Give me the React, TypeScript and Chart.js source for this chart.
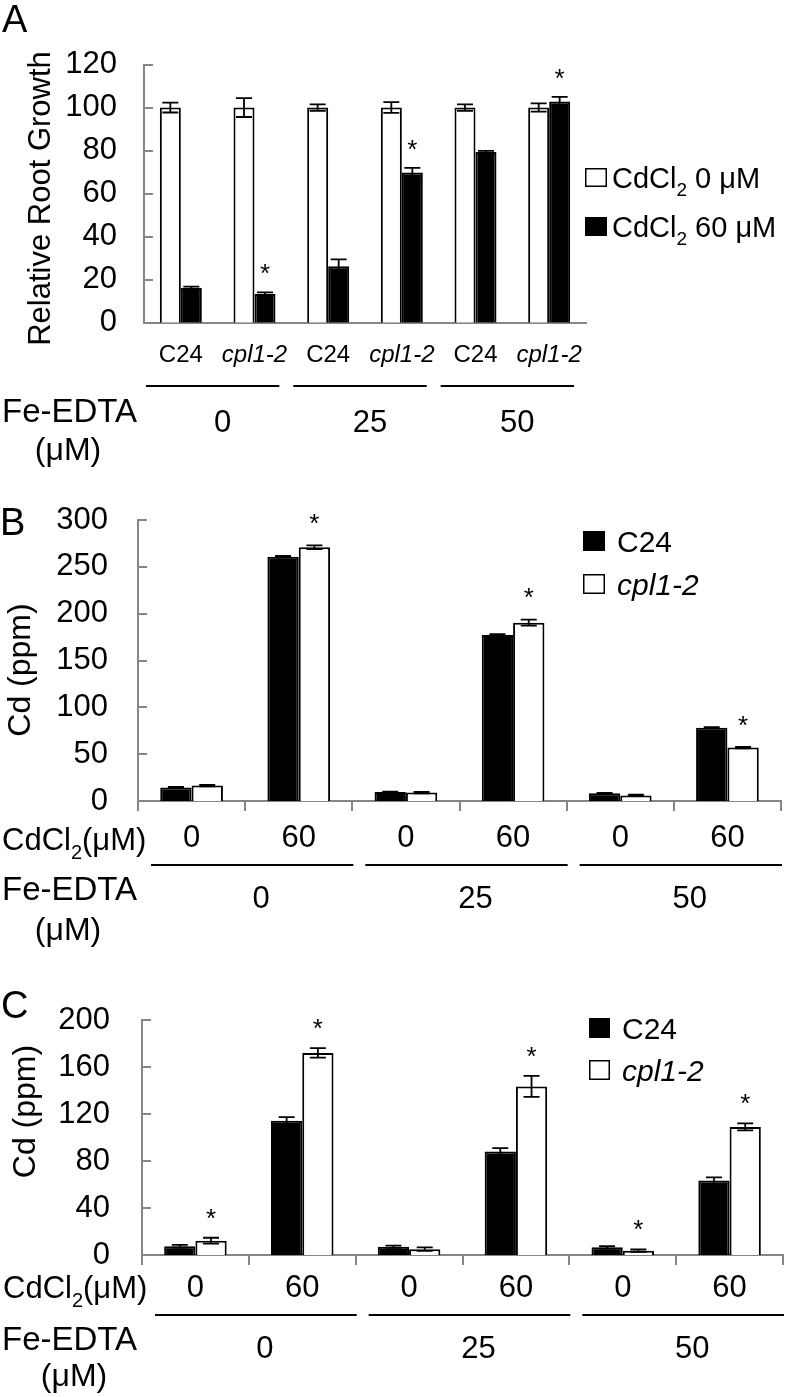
import React, { useEffect, useRef } from "react";
import { Chart, registerables } from "chart.js";

Chart.register(...registerables);

const FONT = '"Liberation Sans", Arial, Helvetica, sans-serif';
const GRAY = "#868686";
const PAGE_W = 797;

// ---------- shared labels ----------
const feLevels = ["0", "25", "50"];
const feLabel = "Fe-EDTA";
const unitLabel = "(μM)";
const cdRowLabel = "CdCl₂(μM)";

// ---------- Panel A ----------
const catsA = ["C24", "cpl1-2", "C24", "cpl1-2", "C24", "cpl1-2"];
const seriesA = ["CdCl₂ 0 μM", "CdCl₂ 60 μM"];
const yTicksA = [0, 20, 40, 60, 80, 100, 120];
const aCd0 = [100, 100, 100, 100, 100, 100];
const aCd0Err = [2.3, 4.4, 1.5, 2.5, 1.5, 1.9];
const aCd0Sig = [false, false, false, false, false, false];
const aCd60 = [16.2, 13.3, 26.2, 69.8, 79.3, 102.8];
const aCd60Err = [0.6, 0.8, 3.2, 2.2, 0.6, 2.2];
const aCd60Sig = [false, true, false, true, false, true];

// ---------- Panel B ----------
const catsBC = ["0", "60", "0", "60", "0", "60"];
const seriesBC = ["C24", "cpl1-2"];
const yTicksB = [0, 50, 100, 150, 200, 250, 300];
const bC24 = [14.5, 260.8, 9.5, 177.2, 8.2, 78.3];
const bC24Err = [0.5, 0.8, 0.5, 0.8, 0.5, 0.5];
const bC24Sig = [false, false, false, false, false, false];
const bCpl = [16.5, 271, 9, 190.4, 6, 57];
const bCplErr = [0.8, 2, 0.8, 3.2, 0.8, 0.8];
const bCplSig = [false, true, false, true, false, true];

// ---------- Panel C ----------
const yTicksC = [0, 40, 80, 120, 160, 200];
const cC24 = [7.5, 114.3, 7, 88, 6.5, 63.3];
const cC24Err = [1.2, 3, 1, 3, 1, 2.8];
const cC24Sig = [false, false, false, false, false, false];
const cCpl = [12.2, 172, 5, 143.5, 3.7, 109];
const cCplErr = [2.5, 4, 1.5, 9, 1, 3];
const cCplSig = [true, true, false, true, true, true];

type Panel = {
  top: number;
  height: number;
  letter: string;
  letterX: number;
  letterY: number;
  cats: string[];
  series: string[];
  fills: string[];
  values: number[][];
  errs: number[][];
  sig: boolean[][];
  yTicks: number[];
  yTitle: string;
  yTitleX: number;
  yTitleY: number;
  yTitleFs: number;
  yTickFs: number;
  yTickPad: number;
  area: { top: number; bottom: number; left: number; right: number };
  catPct: number;
  xFs: number;
  xPad: number;
  xTickMarks: boolean;
  italicCats: boolean;
  legend: { x: number; ys: number[]; w: number; h: number; tx: number; fs: number };
  rowLabel?: { x: number; y: number };
  lineY: number;
  lineL: number;
  lineR: number;
  groupY: number;
  groupDx: number;
  feY: number;
  umX: number;
  umY: number;
  starGap: number;
};

const panelA: Panel = {
  top: 0,
  height: 470,
  letter: "A",
  letterX: 2,
  letterY: 32,
  cats: catsA,
  series: seriesA,
  fills: ["#ffffff", "#000000"],
  values: [aCd0, aCd60],
  errs: [aCd0Err, aCd60Err],
  sig: [aCd0Sig, aCd60Sig],
  yTicks: yTicksA,
  yTitle: "Relative Root Growth",
  yTitleX: 41,
  yTitleY: 198.5,
  yTitleFs: 31,
  yTickFs: 31,
  yTickPad: 27,
  area: { top: 64.5, bottom: 322.7, left: 144, right: 586 },
  catPct: 0.57,
  xFs: 24,
  xPad: 18,
  xTickMarks: false,
  italicCats: true,
  legend: { x: 585, ys: [168, 217], w: 22, h: 19, tx: 612, fs: 29 },
  lineY: 386,
  lineL: 2,
  lineR: -12,
  groupY: 431.7,
  groupDx: 5,
  feY: 421.5,
  umX: 68,
  umY: 460,
  starGap: 25,
};

const panelB: Panel = {
  top: 470,
  height: 485,
  letter: "B",
  letterX: 0,
  letterY: 65,
  cats: catsBC,
  series: seriesBC,
  fills: ["#000000", "#ffffff"],
  values: [bC24, bCpl],
  errs: [bC24Err, bCplErr],
  sig: [bC24Sig, bCplSig],
  yTicks: yTicksB,
  yTitle: "Cd (ppm)",
  yTitleX: 21,
  yTitleY: 200,
  yTitleFs: 32,
  yTickFs: 31,
  yTickPad: 30,
  area: { top: 50, bottom: 331, left: 138, right: 781 },
  catPct: 0.585,
  xFs: 31,
  xPad: 9,
  xTickMarks: true,
  italicCats: false,
  legend: { x: 583, ys: [61, 104], w: 22, h: 20, tx: 617, fs: 30 },
  rowLabel: { x: 2, y: 380 },
  lineY: 395,
  lineL: 13,
  lineR: 1,
  groupY: 438,
  groupDx: 16,
  feY: 430,
  umX: 68,
  umY: 470,
  starGap: 28,
};

const panelC: Panel = {
  top: 955,
  height: 442,
  letter: "C",
  letterX: 1,
  letterY: 63,
  cats: catsBC,
  series: seriesBC,
  fills: ["#000000", "#ffffff"],
  values: [cC24, cCpl],
  errs: [cC24Err, cCplErr],
  sig: [cC24Sig, cCplSig],
  yTicks: yTicksC,
  yTitle: "Cd (ppm)",
  yTitleX: 26.5,
  yTitleY: 156.5,
  yTitleFs: 32,
  yTickFs: 31,
  yTickPad: 32,
  area: { top: 65, bottom: 300, left: 142, right: 783 },
  catPct: 0.585,
  xFs: 31,
  xPad: 5,
  xTickMarks: true,
  italicCats: false,
  legend: { x: 589, ys: [63, 105], w: 21, h: 20, tx: 622, fs: 30 },
  rowLabel: { x: 3, y: 343 },
  lineY: 360,
  lineL: 13,
  lineR: 1,
  groupY: 403,
  groupDx: 16,
  feY: 395,
  umX: 74,
  umY: 431,
  starGap: 26,
};

function richText(
  ctx: CanvasRenderingContext2D,
  text: string,
  x: number,
  y: number,
  fs: number,
  italic: boolean,
  align: "left" | "center" = "left"
) {
  const parts = text.split("₂");
  const st = italic ? "italic " : "";
  const big = `${st}${fs}px ${FONT}`;
  const sfs = Math.round(fs * 0.65);
  const small = `${st}${sfs}px ${FONT}`;
  let total = 0;
  parts.forEach((pt, i) => {
    ctx.font = big;
    total += ctx.measureText(pt).width;
    if (i < parts.length - 1) {
      ctx.font = small;
      total += ctx.measureText("2").width;
    }
  });
  let cx = align === "center" ? x - total / 2 : x;
  ctx.textAlign = "left";
  ctx.textBaseline = "alphabetic";
  parts.forEach((pt, i) => {
    ctx.font = big;
    ctx.fillText(pt, cx, y);
    cx += ctx.measureText(pt).width;
    if (i < parts.length - 1) {
      ctx.font = small;
      ctx.fillText("2", cx, y + fs * 0.28);
      cx += ctx.measureText("2").width;
    }
  });
}

function decor(p: Panel) {
  const CAP = 16;
  const STAR_FS = 26;
  return {
    id: "figureDecor",
    afterDatasetsDraw(chart: any) {
      const ctx: CanvasRenderingContext2D = chart.ctx;
      const ys = chart.scales.y;
      ctx.save();
      p.values.forEach((vals, d) => {
        const meta = chart.getDatasetMeta(d);
        vals.forEach((v, i) => {
          const bar = meta.data[i];
          const e = p.errs[d][i];
          const x = bar.x;
          const yT = ys.getPixelForValue(v + e);
          const yB = ys.getPixelForValue(Math.max(v - e, 0));
          ctx.strokeStyle = "#000";
          ctx.lineWidth = 1.8;
          ctx.beginPath();
          ctx.moveTo(x, yT);
          ctx.lineTo(x, yB);
          ctx.moveTo(x - CAP / 2, yT);
          ctx.lineTo(x + CAP / 2, yT);
          ctx.moveTo(x - CAP / 2, yB);
          ctx.lineTo(x + CAP / 2, yB);
          ctx.stroke();
          if (p.sig[d][i]) {
            ctx.fillStyle = "#000";
            ctx.font = `${STAR_FS}px ${FONT}`;
            ctx.textAlign = "center";
            ctx.textBaseline = "alphabetic";
            ctx.fillText("*", x, yT - p.starGap + 0.57 * STAR_FS);
          }
        });
      });
      ctx.restore();
    },
    afterDraw(chart: any) {
      const ctx: CanvasRenderingContext2D = chart.ctx;
      const xs = chart.scales.x;
      const ys = chart.scales.y;
      ctx.save();
      // inward y-axis tick marks
      ctx.strokeStyle = GRAY;
      ctx.lineWidth = 2;
      ys.ticks.forEach((t: any) => {
        const y = Math.round(ys.getPixelForValue(t.value));
        ctx.beginPath();
        ctx.moveTo(ys.right, y);
        ctx.lineTo(ys.right + 9, y);
        ctx.stroke();
      });
      ctx.fillStyle = "#000";
      // panel letter
      ctx.font = `38px ${FONT}`;
      ctx.textAlign = "left";
      ctx.textBaseline = "alphabetic";
      ctx.fillText(p.letter, p.letterX, p.letterY);
      // y title
      ctx.save();
      ctx.translate(p.yTitleX, p.yTitleY);
      ctx.rotate(-Math.PI / 2);
      ctx.font = `${p.yTitleFs}px ${FONT}`;
      ctx.textAlign = "center";
      ctx.textBaseline = "middle";
      ctx.fillText(p.yTitle, 0, 0);
      ctx.restore();
      // legend
      const lg = p.legend;
      chart.data.datasets.forEach((ds: any, d: number) => {
        const y0 = lg.ys[d];
        ctx.fillStyle = ds.backgroundColor;
        ctx.fillRect(lg.x, y0, lg.w, lg.h);
        ctx.strokeStyle = "#000";
        ctx.lineWidth = 1.5;
        ctx.strokeRect(lg.x + 0.75, y0 + 0.75, lg.w - 1.5, lg.h - 1.5);
        ctx.fillStyle = "#000";
        const italic = String(ds.label).startsWith("cpl");
        richText(ctx, ds.label, lg.tx, y0 + lg.h / 2 + 0.36 * lg.fs, lg.fs, italic);
      });
      // CdCl2 row label
      if (p.rowLabel) {
        richText(ctx, cdRowLabel, p.rowLabel.x, p.rowLabel.y, 31, false);
      }
      // group lines and Fe-EDTA levels
      const n = p.cats.length;
      const per = n / feLevels.length;
      const cw = (xs.right - xs.left) / n;
      feLevels.forEach((lv, g) => {
        const l = xs.left + g * per * cw;
        const r = xs.left + (g + 1) * per * cw;
        ctx.strokeStyle = "#000";
        ctx.lineWidth = 2;
        ctx.beginPath();
        ctx.moveTo(l + p.lineL, p.lineY);
        ctx.lineTo(r + p.lineR, p.lineY);
        ctx.stroke();
        ctx.fillStyle = "#000";
        ctx.font = `31px ${FONT}`;
        ctx.textAlign = "center";
        ctx.textBaseline = "alphabetic";
        ctx.fillText(lv, (l + r) / 2 + p.groupDx, p.groupY);
      });
      ctx.font = `33px ${FONT}`;
      ctx.textAlign = "left";
      ctx.fillText(feLabel, 2, p.feY);
      ctx.font = `32px ${FONT}`;
      ctx.textAlign = "center";
      ctx.fillText(unitLabel, p.umX, p.umY);
      ctx.restore();
    },
  };
}

function buildChart(canvas: HTMLCanvasElement, p: Panel) {
  const step = p.yTicks[1] - p.yTicks[0];
  return new Chart(canvas, {
    type: "bar",
    data: {
      labels: p.cats,
      datasets: p.series.map((s, d) => ({
        label: s,
        data: p.values[d],
        backgroundColor: p.fills[d],
        borderColor: "#000",
        borderWidth: 2,
        borderSkipped: "start",
        categoryPercentage: p.catPct,
        barPercentage: 1,
      })),
    },
    options: {
      animation: false,
      responsive: false,
      maintainAspectRatio: false,
      devicePixelRatio: 1,
      events: [],
      layout: { padding: { top: p.area.top, right: PAGE_W - p.area.right, bottom: 0, left: 0 } },
      plugins: { legend: { display: false }, tooltip: { enabled: false }, title: { display: false } },
      scales: {
        x: {
          type: "category",
          offset: true,
          grid: {
            display: p.xTickMarks,
            drawOnChartArea: false,
            drawTicks: p.xTickMarks,
            tickLength: 10,
            color: GRAY,
            lineWidth: 2,
            offset: true,
          },
          border: { display: true, color: GRAY, width: 2 },
          ticks: {
            autoSkip: false,
            maxRotation: 0,
            minRotation: 0,
            padding: p.xPad,
            color: "#000",
            font: (c: any) => ({
              family: FONT,
              size: p.xFs,
              style: p.italicCats && c.index % 2 === 1 ? "italic" : "normal",
            }),
          },
          afterFit: (s: any) => {
            s.height = p.height - p.area.bottom;
          },
        },
        y: {
          min: p.yTicks[0],
          max: p.yTicks[p.yTicks.length - 1],
          grid: { display: false, drawTicks: false },
          border: { display: true, color: GRAY, width: 2 },
          ticks: {
            stepSize: step,
            padding: p.yTickPad,
            color: "#000",
            font: { family: FONT, size: p.yTickFs },
          },
          afterFit: (s: any) => {
            s.width = p.area.left;
          },
        },
      },
    } as any,
    plugins: [decor(p) as any],
  });
}

function PanelChart({ p }: { p: Panel }) {
  const ref = useRef<HTMLCanvasElement>(null);
  useEffect(() => {
    if (!ref.current) return;
    const c = buildChart(ref.current, p);
    return () => c.destroy();
  }, [p]);
  return (
    <canvas
      ref={ref}
      width={PAGE_W}
      height={p.height}
      style={{ position: "absolute", left: 0, top: p.top, width: PAGE_W, height: p.height, display: "block" }}
    />
  );
}

export default function App() {
  return (
    <div
      style={{
        position: "absolute",
        left: 0,
        top: 0,
        width: PAGE_W,
        height: 1397,
        background: "#ffffff",
        overflow: "hidden",
      }}
    >
      <PanelChart p={panelA} />
      <PanelChart p={panelB} />
      <PanelChart p={panelC} />
    </div>
  );
}
